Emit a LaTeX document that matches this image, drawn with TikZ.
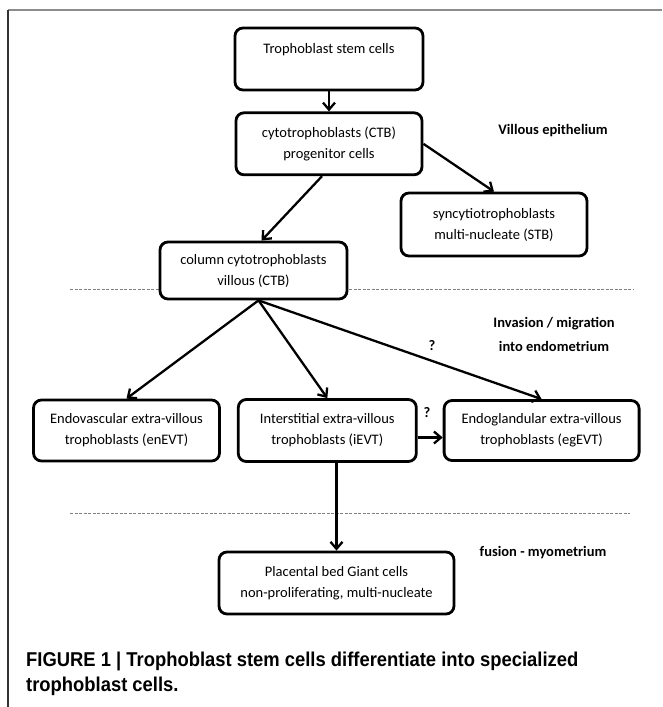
\documentclass[tikz,border=0pt]{standalone}
\usepackage{fontspec}
\setmainfont{Carlito}
\newfontfamily\capfont[FakeStretch=0.92]{Liberation Sans}
\usepackage{tikz}
\usetikzlibrary{arrows.meta,positioning}
\definecolor{frameGray}{HTML}{8C8C8C}
\definecolor{dashGray}{HTML}{808080}

\begin{document}
\begin{tikzpicture}[x=1pt,y=-1pt,
  node distance=20pt and 16pt,
  cell/.style={draw,line width=2.8pt,rounded corners=8pt,fill=white,align=center,minimum width=186pt,minimum height=62pt,font=\fontsize{14.5}{21}\selectfont},
  zone/.style={align=center,inner sep=0pt,font=\fontsize{14.5}{24}\selectfont\bfseries},
  arrow/.style={-{Straight Barb[length=7pt,width=12pt]},line width=2.3pt},
  split/.style={dash pattern=on 3pt off 1.5pt,draw=dashGray,line width=1pt}
]
\useasboundingbox (0,0) rectangle (662,707);
% page frame
\draw[frameGray,line width=1.8pt] (7.5,10) -- (662,10);
\draw[black!80,line width=1.2pt] (8,10) -- (8,707);

% zone borders
\coordinate (s1w) at (70,289);
\coordinate (s1e) at (633,289);
\coordinate (s2w) at (70,513);
\coordinate (s2e) at (630,513);
\draw[split] (s1w) -- (s1e);
\draw[split] (s2w) -- (s2e);

\node[cell,minimum width=188pt] (stem) at (329,59) {Trophoblast stem cells\\~};
\node[cell,below=of stem] (ctb) {cytotrophoblasts (CTB)\\progenitor cells};
\node[cell,minimum height=63pt] (stb) at (494,224.5) {syncytiotrophoblasts\\multi-nucleate (STB)};
\node[cell,minimum width=187pt,minimum height=57pt] (column) at (253.5,270.5) {column cytotrophoblasts\\villous (CTB)};
\node[cell,minimum height=61pt] (enEVT) at (126.5,430.5) {Endovascular extra-villous\\trophoblasts (enEVT)};
\node[cell,right=of enEVT,minimum width=178pt] (iEVT) {Interstitial extra-villous\\trophoblasts (iEVT)};
\node[cell,right=25pt of iEVT,minimum width=195pt,minimum height=60pt] (egEVT) {Endoglandular extra-villous\\trophoblasts (egEVT)};
\node[cell,minimum width=235pt] (giant) at (336.5,583) {Placental bed Giant cells\\non-proliferating, multi-nucleate};

\node[zone] (villous) at (553,131) {Villous epithelium};
\node[zone] (invasion) at (554,334) {Invasion / migration\\into endometrium};
\node[zone] (fusion) at (543,553) {fusion - myometrium};
\node[zone] (qa) at (432,346) {?};
\node[zone] (qb) at (427,413) {?};

\draw[arrow] (stem.south) -- (stem.south |- ctb.north);
\draw[arrow] (ctb.east) -- (stb.north);
\draw[arrow] ([xshift=-7pt]ctb.south) -- ([xshift=8pt]column.north);
\coordinate (fork) at ([xshift=5pt]column.south);
\draw[arrow] (fork) -- (enEVT.north);
\draw[arrow] (fork) -- (iEVT.north);
\draw[arrow] (fork) -- (egEVT.north);
\draw[arrow] ([yshift=-7pt]iEVT.east) -- ([yshift=-7pt]egEVT.west);
\draw[arrow] (giant.north |- iEVT.south) -- (giant.north);

\node[anchor=base west,align=left,inner sep=0pt,font=\capfont\bfseries\fontsize{20}{25}\selectfont] (caption) at (26,691) {FIGURE 1 | Trophoblast stem cells differentiate into specialized\\trophoblast cells.};
\end{tikzpicture}
\end{document}
